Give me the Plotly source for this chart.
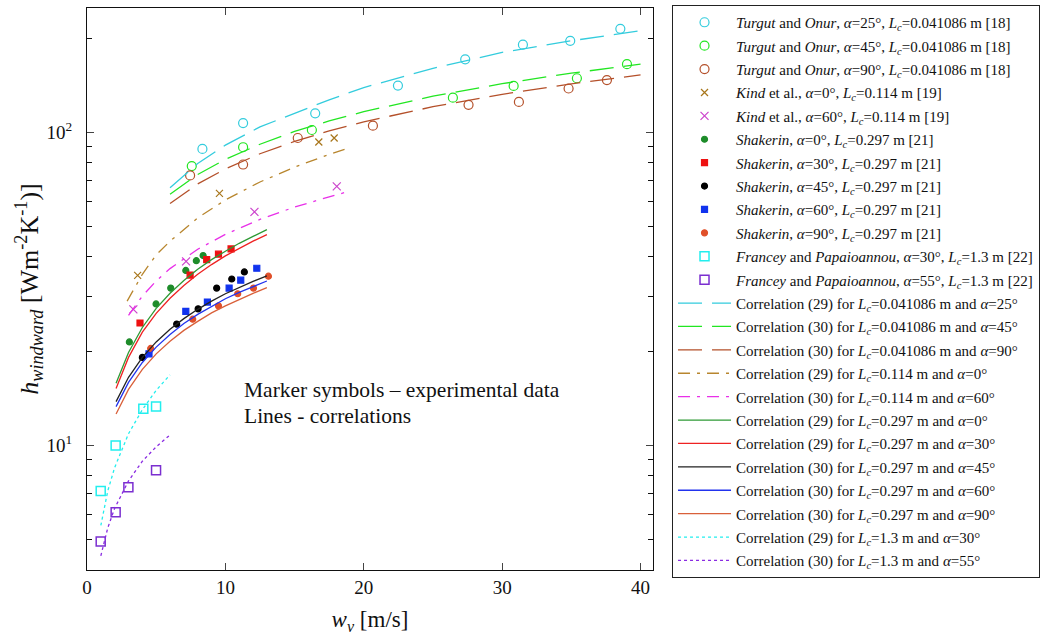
import plotly.graph_objects as go

# ---------------- experimental data ----------------
turgut25_x = [8.34, 11.28, 16.49, 22.47, 27.33, 31.5, 34.92, 38.54]
turgut25_y = [88.5, 107, 115, 141, 171, 190.5, 196, 214]
turgut45_x = [7.57, 11.28, 16.25, 26.44, 30.83, 35.4, 39.02]
turgut45_y = [78, 89.6, 101.7, 129, 140.6, 148.8, 165]
turgut90_x = [7.45, 11.28, 15.23, 20.66, 27.57, 31.21, 34.8, 37.57]
turgut90_y = [72.8, 78.9, 95.9, 105, 122.4, 125, 138, 146.8]
kind0_x = [3.66, 9.57, 16.75, 17.86]
kind0_y = [34.9, 63.8, 93.1, 95.9]
kind60_x = [3.35, 7.16, 12.1, 18.05]
kind60_y = [27.2, 38.7, 55.7, 67.2]
shak0_x = [3.06, 4.99, 6.05, 7.14, 7.9, 8.39]
shak0_y = [21.4, 28.3, 31.8, 36.2, 38.9, 40.4]
shak30_x = [3.83, 7.45, 8.65, 9.5, 10.41]
shak30_y = [24.6, 35, 39.2, 40.8, 42.4]
shak45_x = [4.0, 6.48, 8.03, 9.37, 10.46, 11.37]
shak45_y = [19.1, 24.4, 27.3, 31.8, 34.0, 35.8]
shak60_x = [4.48, 7.14, 8.7, 10.27, 11.11, 12.27]
shak60_y = [19.6, 26.8, 28.7, 31.8, 33.7, 36.8]
shak90_x = [4.6, 7.64, 9.5, 10.89, 12.03, 13.11]
shak90_y = [20.4, 25.3, 27.9, 30.5, 31.8, 34.7]
fran30_x = [0.99, 2.07, 4.07, 4.99]
fran30_y = [7.15, 10.0, 13.1, 13.3]
fran55_x = [0.99, 2.07, 2.99, 4.99]
fran55_y = [4.93, 6.12, 7.35, 8.33]

# ---------------- correlation curves ----------------
c_turgut_x = [6, 8, 10, 12.5, 15, 17.5, 20, 25, 30, 35, 40]
c_turgut25_y = [66.5, 79.5, 91, 104, 115, 127, 139, 160, 180, 196, 211]
c_turgut45_y = [63.4, 73.3, 82, 91.6, 100.6, 108.7, 116.4, 130.4, 143, 154.5, 165]
c_turgut90_y = [59.2, 68.4, 76.4, 85.4, 93.5, 101, 108, 120.7, 132.2, 142.8, 152.5]
c_kind0_x = [2.9, 4, 5, 6, 8, 10, 12.5, 15, 17.5, 19]
c_kind0_y = [28.9, 35.2, 40.6, 44.9, 53.3, 60.8, 69.4, 77.4, 85, 89.4]
c_kind60_x = [3, 4, 5, 6, 8, 10, 12.5, 15, 17.5, 19]
c_kind60_y = [26, 30, 33.5, 36.7, 42.3, 47.2, 52.7, 57.7, 62.2, 64.9]
c_shak_x = [2.1, 3, 4, 5, 6, 7, 8, 9, 10, 11, 12, 13]
c_shak0_y = [15.8, 19.8, 23.8, 27.4, 30.6, 33.6, 36.5, 39.2, 41.7, 44.2, 46.5, 48.9]
c_shak30_y = [15.2, 19.1, 23.0, 26.4, 29.5, 32.4, 35.2, 37.8, 40.3, 42.6, 44.9, 47.1]
c_shak45_y = [13.8, 16.5, 19.1, 21.4, 23.5, 25.4, 27.2, 28.9, 30.5, 32.0, 33.4, 34.8]
c_shak60_y = [13.3, 15.9, 18.4, 20.6, 22.6, 24.5, 26.2, 27.8, 29.4, 30.8, 32.2, 33.5]
c_shak90_y = [12.6, 15.1, 17.5, 19.6, 21.5, 23.3, 24.9, 26.5, 27.9, 29.3, 30.6, 31.9]
c_fran_x = [1, 1.5, 2, 3, 4, 5, 6]
c_fran30_y = [5.55, 7.15, 8.5, 10.9, 13.0, 15.0, 16.8]
c_fran55_y = [4.44, 5.45, 6.3, 7.7, 8.9, 9.9, 10.8]

y_major = [10, 100]
y_major_text = ["10<sup>1</sup>", "10<sup>2</sup>"]
y_minor = [5, 6, 7, 8, 9, 20, 30, 40, 50, 60, 70, 80, 90, 200]
x_ticks = [0, 10, 20, 30, 40]

FONT = "Liberation Serif"
A = "<i>α</i>"
L = "<i>L<sub>c</sub></i>"

fig = go.Figure()
gi = [0]


def add(x, y, name, mode, color, symbol=None, size=None, dash=None, width=1.3, lw=1.2):
    gi[0] += 1
    kw = dict(x=x, y=y, name=name, mode=mode, legendgroup="g%d" % gi[0])
    if mode == "markers":
        kw["marker"] = dict(symbol=symbol, size=size, color=color,
                            line=dict(color=color, width=lw))
    else:
        kw["line"] = dict(color=color, width=width, dash=dash)
    fig.add_trace(go.Scatter(**kw))


C_CY = "#33CCDD"
C_GR = "#22E622"
C_BR = "#B4502A"
C_GO = "#B8862E"
C_MG = "#E830E8"

add(turgut25_x, turgut25_y, f"<i>Turgut</i> and <i>Onur</i>, {A}=25°, {L}=0.041086 m [18]", "markers", C_CY, "circle-open", 9)
add(turgut45_x, turgut45_y, f"<i>Turgut</i> and <i>Onur</i>, {A}=45°, {L}=0.041086 m [18]", "markers", C_GR, "circle-open", 9)
add(turgut90_x, turgut90_y, f"<i>Turgut</i> and <i>Onur</i>, {A}=90°, {L}=0.041086 m [18]", "markers", C_BR, "circle-open", 9)
add(kind0_x, kind0_y, f"<i>Kind</i> et al., {A}=0°, {L}=0.114 m [19]", "markers", "#A8761B", "x-thin-open", 7)
add(kind60_x, kind60_y, f"<i>Kind</i> et al., {A}=60°, {L}=0.114 m [19]", "markers", "#CC44CC", "x-thin-open", 8)
add(shak0_x, shak0_y, f"<i>Shakerin</i>, {A}=0°, {L}=0.297 m [21]", "markers", "#1E8C2A", "circle", 6)
add(shak30_x, shak30_y, f"<i>Shakerin</i>, {A}=30°, {L}=0.297 m [21]", "markers", "#EE1111", "square", 6)
add(shak45_x, shak45_y, f"<i>Shakerin</i>, {A}=45°, {L}=0.297 m [21]", "markers", "#000000", "circle", 6)
add(shak60_x, shak60_y, f"<i>Shakerin</i>, {A}=60°, {L}=0.297 m [21]", "markers", "#1133EE", "square", 6)
add(shak90_x, shak90_y, f"<i>Shakerin</i>, {A}=90°, {L}=0.297 m [21]", "markers", "#E0502A", "circle", 6)
add(fran30_x, fran30_y, f"<i>Francey</i> and <i>Papaioannou</i>, {A}=30°, {L}=1.3 m [22]", "markers", "#22EEEE", "square-open", 9, lw=1.5)
add(fran55_x, fran55_y, f"<i>Francey</i> and <i>Papaioannou</i>, {A}=55°, {L}=1.3 m [22]", "markers", "#7B2FD0", "square-open", 9, lw=1.5)

LD = "24px,10px"
DD = "12px,7px,3px,7px"
DT = "3px,3px"
add(c_turgut_x, c_turgut25_y, f"Correlation (29) for {L}=0.041086 m and {A}=25°", "lines", C_CY, dash=LD)
add(c_turgut_x, c_turgut45_y, f"Correlation (30) for {L}=0.041086 m and {A}=45°", "lines", C_GR, dash=LD)
add(c_turgut_x, c_turgut90_y, f"Correlation (30) for {L}=0.041086 m and {A}=90°", "lines", C_BR, dash=LD)
add(c_kind0_x, c_kind0_y, f"Correlation (29) for {L}=0.114 m and {A}=0°", "lines", C_GO, dash=DD)
add(c_kind60_x, c_kind60_y, f"Correlation (30) for {L}=0.114 m and {A}=60°", "lines", C_MG, dash=DD)
add(c_shak_x, c_shak0_y, f"Correlation (29) for {L}=0.297 m and {A}=0°", "lines", "#2E9A35", dash="solid")
add(c_shak_x, c_shak30_y, f"Correlation (29) for {L}=0.297 m and {A}=30°", "lines", "#EE2222", dash="solid")
add(c_shak_x, c_shak45_y, f"Correlation (30) for {L}=0.297 m and {A}=45°", "lines", "#222222", dash="solid")
add(c_shak_x, c_shak60_y, f"Correlation (30) for {L}=0.297 m and {A}=60°", "lines", "#2233EE", dash="solid")
add(c_shak_x, c_shak90_y, f"Correlation (30) for {L}=0.297 m and {A}=90°", "lines", "#D9603A", dash="solid")
add(c_fran_x, c_fran30_y, f"Correlation (29) for {L}=1.3 m and {A}=30°", "lines", "#22EEEE", dash=DT)
add(c_fran_x, c_fran55_y, f"Correlation (30) for {L}=1.3 m and {A}=55°", "lines", "#8A2BE2", dash=DT)

ann_font = dict(family=FONT, size=21.5, color="#111111")
fig.add_annotation(x=0.2738, y=(570 - 389) / 565, xref="paper", yref="paper",
                   xanchor="left", yanchor="middle", showarrow=False,
                   text="Marker symbols – experimental data", font=ann_font)
fig.add_annotation(x=0.2738, y=(570 - 415) / 565, xref="paper", yref="paper",
                   xanchor="left", yanchor="middle", showarrow=False,
                   text="Lines - correlations", font=ann_font)

fig.update_layout(
    width=1045, height=635,
    margin=dict(l=87, r=392, t=5, b=65),
    paper_bgcolor="white", plot_bgcolor="white",
    font=dict(family=FONT, color="#111111"),
    showlegend=True,
    legend=dict(
        x=1.0336, y=1.0053, xanchor="left", yanchor="top",
        bordercolor="#222222", borderwidth=1, bgcolor="white",
        font=dict(family=FONT, size=15, color="#111111"),
        itemwidth=53, tracegroupgap=0.9, maxheight=630,
    ),
    xaxis=dict(
        range=[0, 40.9], tickvals=x_ticks, ticks="inside", ticklen=7,
        showline=True, linecolor="#111111", linewidth=1.3, mirror="ticks",
        showgrid=False, zeroline=False, automargin=False,
        tickfont=dict(family=FONT, size=19),
        title=dict(text="<i>w<sub>v</sub></i> [m/s]", font=dict(family=FONT, size=23), standoff=14),
    ),
    yaxis=dict(
        type="log", range=[0.602, 2.397],
        tickvals=y_major, ticktext=y_major_text, ticks="inside", ticklen=7,
        minor=dict(tickvals=y_minor, ticks="inside", ticklen=5, tickcolor="#111111", showgrid=False),
        showline=True, linecolor="#111111", linewidth=1.3, mirror="ticks",
        showgrid=False, zeroline=False, automargin=False,
        tickfont=dict(family=FONT, size=19), ticklabelstandoff=10,
        title=dict(text="<i>h<sub>windward</sub></i> [Wm<sup>-2</sup>K<sup>-1</sup>)]",
                   font=dict(family=FONT, size=26), standoff=0),
    ),
)

fig.write_html("out.html", config={"displayModeBar": False},
               post_script="document.body.style.margin='0';")
